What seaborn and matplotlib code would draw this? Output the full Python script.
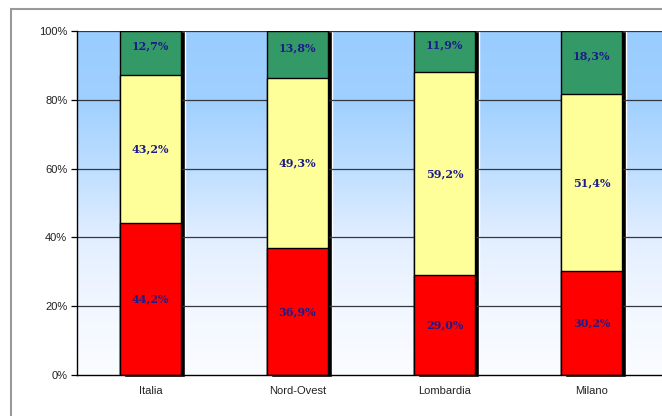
import numpy as np
import pandas as pd
import matplotlib
matplotlib.use("Agg")
import matplotlib.pyplot as plt
import seaborn as sns
from matplotlib.patches import Rectangle

categories = ["Italia", "Nord-Ovest", "Lombardia", "Milano"]
red_vals = [44.2, 36.9, 29.0, 30.2]
yellow_vals = [43.2, 49.3, 59.2, 51.4]
green_vals = [12.7, 13.8, 11.9, 18.3]
yticks = [0, 20, 40, 60, 80, 100]
ytick_labels = ["0%", "20%", "40%", "60%", "80%", "100%"]

sns.set_theme(style="white")
plt.rcParams['font.family'] = ['Liberation Sans', 'DejaVu Sans']

r = np.array(red_vals); y = np.array(yellow_vals); g = np.array(green_vals)
tot = r + y + g
rn = r / tot * 100; yn = y / tot * 100; gn = g / tot * 100

df = pd.DataFrame({"cat": categories, "red": rn, "ry": rn + yn, "all": rn + yn + gn})

fig = plt.figure(figsize=(6.62, 4.16), dpi=100)
fig.patch.set_facecolor("white")
ax = fig.add_axes([77/662, 1 - 375/416, 588/662, 344/416])

# gradient background (non-linear fade)
hs = np.linspace(100, 0, 344)
stops = [0, 20, 40, 60, 80, 100]
rs = [250, 242, 226, 190, 160, 153]
gs = [252, 247, 238, 222, 208, 204]
bs = [255, 255, 255, 255, 255, 255]
img = np.stack([np.interp(hs, stops, rs), np.interp(hs, stops, gs),
                np.interp(hs, stops, bs)], axis=1) / 255
img = img.reshape(-1, 1, 3)
ax.imshow(img, extent=(-0.5, 3.5, 0, 100), aspect="auto", zorder=0, interpolation="bilinear")

bw = 0.41
# shadows
sh = 4 / 147
ax.bar(np.arange(4) + sh, [100.6] * 4, bottom=-0.6, width=bw, color="black",
       zorder=1, clip_on=False)

sns.barplot(data=df, x="cat", y="all", color="#339966", width=bw, edgecolor="black",
            linewidth=1, saturation=1, ax=ax, zorder=2)
sns.barplot(data=df, x="cat", y="ry", color="#FFFF99", width=bw, edgecolor="black",
            linewidth=1, saturation=1, ax=ax, zorder=3)
sns.barplot(data=df, x="cat", y="red", color="#FF0000", width=bw, edgecolor="black",
            linewidth=1, saturation=1, ax=ax, zorder=4)

lab_kw = dict(ha="center", va="center", fontsize=8, fontweight="bold",
              color="#1C1C8A", family=["DejaVu Serif"], zorder=6)
for i in range(4):
    ax.text(i, rn[i] / 2, f"{red_vals[i]:.1f}%".replace(".", ","), **lab_kw)
    ax.text(i, rn[i] + yn[i] / 2, f"{yellow_vals[i]:.1f}%".replace(".", ","), **lab_kw)
    ax.text(i, rn[i] + yn[i] + gn[i] / 2 + 2, f"{green_vals[i]:.1f}%".replace(".", ","), **lab_kw)

ax.set_xlim(-0.5, 3.5)
ax.set_ylim(0, 100)
for yv in yticks[1:]:
    ax.axhline(yv, color="#333840", lw=0.9, zorder=1.5)

ax.set_yticks(yticks)
ax.set_yticklabels(ytick_labels, fontsize=8, color="#222222")
ax.set_xticks(range(4))
ax.set_xticklabels(categories, fontsize=8, color="#222222")
ax.set_xticks([0.5, 1.5, 2.5], minor=True)
ax.tick_params(axis="x", which="major", length=0, pad=8)
ax.tick_params(axis="x", which="minor", length=4, width=0.9, color="black", direction="out")
ax.tick_params(axis="y", length=4, width=0.9, color="black", direction="out", left=True, pad=3)
ax.set_xlabel("")
ax.set_ylabel("")
for s in ["top", "right"]:
    ax.spines[s].set_visible(False)
for s in ["left", "bottom"]:
    ax.spines[s].set_color("black")
    ax.spines[s].set_linewidth(1)
    ax.spines[s].set_zorder(5)

fig.patches.append(Rectangle((11/662, -0.02), 1.0, 0.978 + 0.02, transform=fig.transFigure,
                             fill=False, edgecolor="#999999", lw=1.5))

fig.savefig("out.png", dpi=100)
